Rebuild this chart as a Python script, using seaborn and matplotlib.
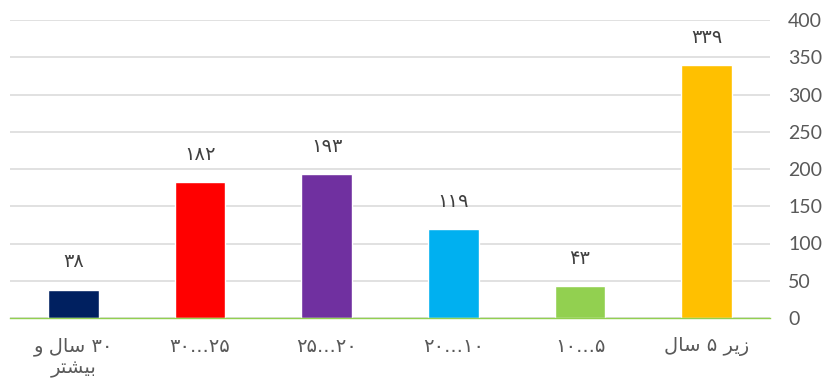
import matplotlib
matplotlib.use("Agg")
import matplotlib.pyplot as plt
import seaborn as sns
import pandas as pd

# ---- data (categories in visual left-to-right order; Arabic pre-shaped) ----
categories = [
    "\uFEED \uFEDD\uFE8E\uFEB3 ۳۰\n\uFEAE\uFE98\uFEB8\uFEF4\uFE91",
    "۳۰...۲۵",
    "۲۵...۲۰",
    "۲۰...۱۰",
    "۱۰...۵",
    "\uFEDD\uFE8E\uFEB3 ۵ \uFEAE\uFEF3\uFEAF",
]
values = [38, 182, 193, 119, 43, 339]
colors = ["#002060", "#FF0000", "#7030A0", "#00B0F0", "#92D050", "#FFC000"]
yticks = [0, 50, 100, 150, 200, 250, 300, 350, 400]

persian = str.maketrans("0123456789", "۰۱۲۳۴۵۶۷۸۹")

df = pd.DataFrame({"cat": categories, "val": values})

sns.set_theme(style="white")
plt.rcParams["font.family"] = ["DejaVu Sans"]

fig = plt.figure(figsize=(8.34, 3.84), dpi=100)
ax = fig.add_axes([10 / 834, 1 - 318 / 384, 760 / 834, 298 / 384])

sns.barplot(data=df, x="cat", y="val", hue="cat", palette=colors,
            order=categories, hue_order=categories, width=0.4,
            legend=False, ax=ax, saturation=1)

ax.set_ylim(0, 400)
ax.set_xlim(-0.5, len(categories) - 0.5)
ax.set_yticks(yticks)
ax.yaxis.tick_right()
ax.set_yticklabels([str(t) for t in yticks], family=["Lato", "DejaVu Sans"],
                   fontsize=14, color="#595959", ha="left")
ax.tick_params(axis="y", length=0, pad=13)
ax.tick_params(axis="x", length=0, pad=14, labelsize=14, colors="#595959")
ax.set_xlabel("")
ax.set_ylabel("")
ax.grid(axis="y", color="#D9D9D9", linewidth=1.1)
ax.set_axisbelow(True)
for s in ["top", "left", "right"]:
    ax.spines[s].set_visible(False)
ax.spines["bottom"].set_color("#92D050")
ax.spines["bottom"].set_linewidth(1.0)
for lbl in ax.get_xticklabels():
    lbl.set_multialignment("center")
    lbl.set_linespacing(1.1)

for i, v in enumerate(values):
    ax.annotate(str(v).translate(persian), (i, v), xytext=(0, 20),
                textcoords="offset points", ha="center", va="center",
                fontsize=14, color="#404040")

fig.savefig("out.png", dpi=100)
